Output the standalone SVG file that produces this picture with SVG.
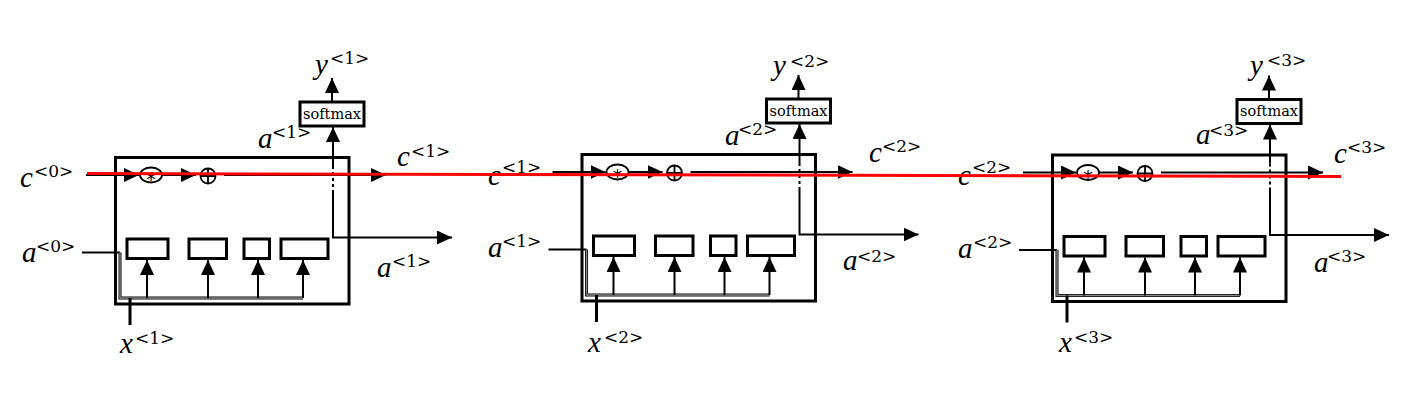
<svg xmlns="http://www.w3.org/2000/svg" width="1407" height="404" viewBox="0 0 1407 404">
<style>
.box{fill:none;stroke:#000;stroke-width:3}
.gate{fill:#fff;stroke:#000;stroke-width:3}
.ln{fill:none;stroke:#000;stroke-width:2}
.thick{fill:none;stroke:#000;stroke-width:3}
.bus{fill:none;stroke:#000;stroke-width:3}
.busin{fill:none;stroke:#8a8a8a;stroke-width:1.4}
.dash{fill:none;stroke:#000;stroke-width:2;stroke-dasharray:3 3}
.arr{marker-end:url(#ah)}
.op{fill:none;stroke:#000;stroke-width:1.8}
.sm{font-family:"DejaVu Serif",serif;font-size:14.5px;text-anchor:middle}
.ast{font-family:"DejaVu Sans",sans-serif;font-size:19px;text-anchor:middle}
.v{font-family:"Liberation Serif",serif;font-style:italic;font-size:29px}
.s{font-family:"DejaVu Serif",serif;font-style:normal;font-size:17px}
.red{stroke:#ff0000;stroke-width:3;fill:none}
</style>
<defs>
<marker id="ah" markerUnits="userSpaceOnUse" markerWidth="15" markerHeight="14" viewBox="0 0 15 14" refX="15" refY="7" orient="auto">
<path d="M0,0 L15,7 L0,14 Z" fill="#000"/>
</marker>
</defs>
<rect width="1407" height="404" fill="#fff"/>

<g id="cell1">
<rect class="box" x="115.5" y="157.5" width="233.5" height="146.5"/>
<rect class="gate" x="127" y="239" width="41" height="19.5"/>
<rect class="gate" x="189" y="239" width="37.5" height="19.5"/>
<rect class="gate" x="244" y="239" width="25.5" height="19.5"/>
<rect class="gate" x="281" y="239" width="47" height="19.5"/>
<rect class="gate" x="300" y="102" width="64" height="24"/>
<text class="sm" x="332" y="118.5">softmax</text>
<ellipse class="op" cx="151" cy="175" rx="11" ry="7.5"/>
<text class="ast" x="151" y="186">*</text>
<circle class="op" cx="208" cy="176" r="7.5"/>
<path class="op" d="M200.5,176 H215.5 M208,168.5 V183.5"/>
</g>

<g id="cell2" transform="translate(466.5,-3)">
<rect class="box" x="115.5" y="157.5" width="233.5" height="146.5"/>
<rect class="gate" x="127" y="239" width="41" height="19.5"/>
<rect class="gate" x="189" y="239" width="37.5" height="19.5"/>
<rect class="gate" x="244" y="239" width="25.5" height="19.5"/>
<rect class="gate" x="281" y="239" width="47" height="19.5"/>
<rect class="gate" x="300" y="102" width="64" height="24"/>
<text class="sm" x="332" y="118.5">softmax</text>
<ellipse class="op" cx="151" cy="175" rx="11" ry="7.5"/>
<text class="ast" x="151" y="186">*</text>
<circle class="op" cx="208" cy="176" r="7.5"/>
<path class="op" d="M200.5,176 H215.5 M208,168.5 V183.5"/>
</g>

<g id="cell3" transform="translate(937,-2.5)">
<rect class="box" x="115.5" y="157.5" width="233.5" height="146.5"/>
<rect class="gate" x="127" y="239" width="41" height="19.5"/>
<rect class="gate" x="189" y="239" width="37.5" height="19.5"/>
<rect class="gate" x="244" y="239" width="25.5" height="19.5"/>
<rect class="gate" x="281" y="239" width="47" height="19.5"/>
<rect class="gate" x="300" y="102" width="64" height="24"/>
<text class="sm" x="332" y="118.5">softmax</text>
<ellipse class="op" cx="151" cy="175" rx="11" ry="7.5"/>
<text class="ast" x="151" y="186">*</text>
<circle class="op" cx="208" cy="176" r="7.5"/>
<path class="op" d="M200.5,176 H215.5 M208,168.5 V183.5"/>
</g>

<g id="connectors">
<g id="conn1">
<path class="ln arr" d="M86,175 H139"/>
<path class="ln arr" d="M162,175 H196"/>
<path class="ln arr" d="M224,175 H386"/>
<path class="ln arr" d="M333,166 V127"/>
<path class="dash" d="M333,166 V190"/>
<path class="ln arr" d="M333,190 V237.5 H452"/>
<path class="ln arr" d="M332,101 V78"/>
<path class="ln" d="M82,252.5 H120"/>
<path class="bus" d="M120,252.5 V298 H303"/>
<path class="busin" d="M120,252.5 V298 H303"/>
<path class="ln arr" d="M147,298 V260"/>
<path class="ln arr" d="M208,298 V260"/>
<path class="ln arr" d="M258,298 V260"/>
<path class="ln arr" d="M303,298 V260"/>
<path class="thick" d="M130,298 V325"/>
</g>
<g id="conn2" transform="translate(466.5,-3)">
<path class="ln arr" d="M86,175 H139"/>
<path class="ln arr" d="M162,175 H196"/>
<path class="ln arr" d="M224,175 H386"/>
<path class="ln arr" d="M333,166 V127"/>
<path class="dash" d="M333,166 V190"/>
<path class="ln arr" d="M333,190 V237.5 H452"/>
<path class="ln arr" d="M332,101 V78"/>
<path class="ln" d="M82,252.5 H120"/>
<path class="bus" d="M120,252.5 V298 H303"/>
<path class="busin" d="M120,252.5 V298 H303"/>
<path class="ln arr" d="M147,298 V260"/>
<path class="ln arr" d="M208,298 V260"/>
<path class="ln arr" d="M258,298 V260"/>
<path class="ln arr" d="M303,298 V260"/>
<path class="thick" d="M130,298 V325"/>
</g>
<g id="conn3" transform="translate(937,-2.5)">
<path class="ln arr" d="M86,175 H139"/>
<path class="ln arr" d="M162,175 H196"/>
<path class="ln arr" d="M224,175 H386"/>
<path class="ln arr" d="M333,166 V127"/>
<path class="dash" d="M333,166 V190"/>
<path class="ln arr" d="M333,190 V237.5 H452"/>
<path class="ln arr" d="M332,101 V78"/>
<path class="ln" d="M82,252.5 H120"/>
<path class="bus" d="M120,252.5 V298 H303"/>
<path class="busin" d="M120,252.5 V298 H303"/>
<path class="ln arr" d="M147,298 V260"/>
<path class="ln arr" d="M208,298 V260"/>
<path class="ln arr" d="M258,298 V260"/>
<path class="ln arr" d="M303,298 V260"/>
<path class="thick" d="M130,298 V325"/>
</g>
</g>

<g id="labels">
<text class="v" x="315" y="74">y<tspan class="s" x="330" y="64">&lt;1&gt;</tspan></text>
<text class="v" x="258" y="148">a<tspan class="s" x="272" y="138">&lt;1&gt;</tspan></text>
<text class="v" x="397" y="166">c<tspan class="s" x="411" y="157">&lt;1&gt;</tspan></text>
<text class="v" x="377" y="277">a<tspan class="s" x="392" y="267">&lt;1&gt;</tspan></text>
<text class="v" x="20" y="187">c<tspan class="s" x="34" y="177">&lt;0&gt;</tspan></text>
<text class="v" x="22" y="262">a<tspan class="s" x="36" y="252">&lt;0&gt;</tspan></text>
<text class="v" x="120" y="353">x<tspan class="s" x="135" y="344">&lt;1&gt;</tspan></text>

<text class="v" x="773" y="75">y<tspan class="s" x="790" y="67">&lt;2&gt;</tspan></text>
<text class="v" x="725" y="145">a<tspan class="s" x="738" y="135">&lt;2&gt;</tspan></text>
<text class="v" x="869" y="162">c<tspan class="s" x="882" y="152">&lt;2&gt;</tspan></text>
<text class="v" x="843" y="270">a<tspan class="s" x="857" y="262">&lt;2&gt;</tspan></text>
<text class="v" x="488" y="185">c<tspan class="s" x="502" y="173">&lt;1&gt;</tspan></text>
<text class="v" x="488" y="257">a<tspan class="s" x="502" y="247">&lt;1&gt;</tspan></text>
<text class="v" x="588" y="352">x<tspan class="s" x="604" y="343">&lt;2&gt;</tspan></text>

<text class="v" x="1250" y="75">y<tspan class="s" x="1267" y="66">&lt;3&gt;</tspan></text>
<text class="v" x="1196" y="144">a<tspan class="s" x="1209" y="136">&lt;3&gt;</tspan></text>
<text class="v" x="1334" y="163">c<tspan class="s" x="1347" y="153">&lt;3&gt;</tspan></text>
<text class="v" x="1314" y="272">a<tspan class="s" x="1327" y="262">&lt;3&gt;</tspan></text>
<text class="v" x="958" y="185">c<tspan class="s" x="972" y="173">&lt;2&gt;</tspan></text>
<text class="v" x="958" y="258">a<tspan class="s" x="973" y="248">&lt;2&gt;</tspan></text>
<text class="v" x="1059" y="352">x<tspan class="s" x="1074" y="343">&lt;3&gt;</tspan></text>
</g>

<g id="highlight">
<path class="red" d="M87,173.5 L1341,176.5"/>
</g>
</svg>
